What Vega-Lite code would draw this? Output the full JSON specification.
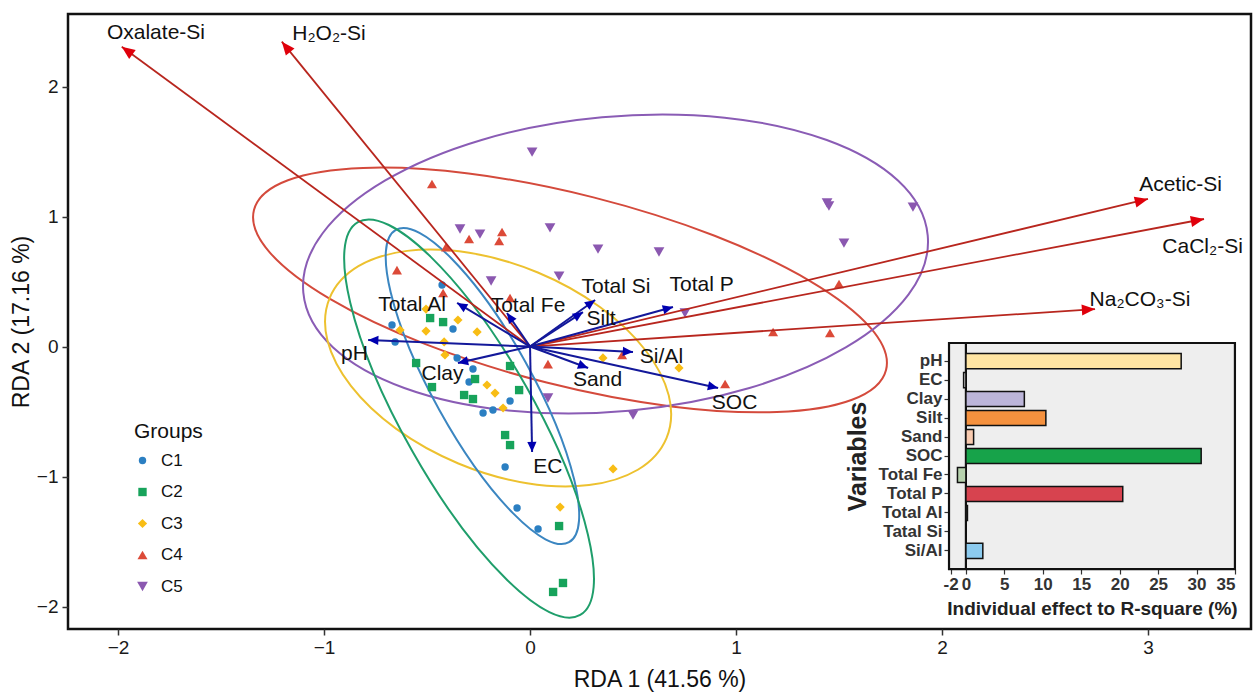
{
  "$schema": "https://vega.github.io/schema/vega-lite/v6.json",
  "width": 1183,
  "height": 615,
  "autosize": {"type": "none"},
  "padding": {"left": 68, "top": 14, "right": 2, "bottom": 64},
  "background": "white",
  "config": {
    "font": "Liberation Sans",
    "view": {"stroke": "#111111", "strokeWidth": 2.5},
    "axis": {"grid": false, "domain": false, "labelFont": "Liberation Sans", "titleFont": "Liberation Sans", "titleFontWeight": "normal", "labelColor": "#1a1a1a", "titleColor": "#111111", "tickColor": "#333333"},
    "legend": {"titleFont": "Liberation Sans", "labelFont": "Liberation Sans", "titleFontSize": 21, "titleFontWeight": "normal", "labelFontSize": 17, "titleColor": "#111111", "labelColor": "#111111", "rowPadding": 13.5, "labelOffset": 10, "titlePadding": 10, "padding": 0}
  },
  "datasets": {
    "points": [
      {"group": "C1", "rda1": -0.427, "rda2": 0.473},
      {"group": "C1", "rda1": -0.670, "rda2": 0.165},
      {"group": "C1", "rda1": -0.374, "rda2": 0.135},
      {"group": "C1", "rda1": -0.655, "rda2": 0.035},
      {"group": "C1", "rda1": -0.354, "rda2": -0.088},
      {"group": "C1", "rda1": -0.277, "rda2": -0.173},
      {"group": "C1", "rda1": -0.296, "rda2": -0.273},
      {"group": "C1", "rda1": -0.097, "rda2": -0.419},
      {"group": "C1", "rda1": -0.180, "rda2": -0.488},
      {"group": "C1", "rda1": -0.228, "rda2": -0.512},
      {"group": "C1", "rda1": -0.121, "rda2": -0.927},
      {"group": "C1", "rda1": -0.063, "rda2": -1.242},
      {"group": "C1", "rda1": 0.039, "rda2": -1.404},
      {"group": "C2", "rda1": -0.485, "rda2": 0.219},
      {"group": "C2", "rda1": -0.422, "rda2": 0.188},
      {"group": "C2", "rda1": -0.553, "rda2": -0.127},
      {"group": "C2", "rda1": -0.476, "rda2": -0.312},
      {"group": "C2", "rda1": -0.320, "rda2": -0.373},
      {"group": "C2", "rda1": -0.277, "rda2": -0.404},
      {"group": "C2", "rda1": -0.267, "rda2": -0.250},
      {"group": "C2", "rda1": -0.097, "rda2": -0.150},
      {"group": "C2", "rda1": -0.053, "rda2": -0.335},
      {"group": "C2", "rda1": -0.121, "rda2": -0.681},
      {"group": "C2", "rda1": -0.097, "rda2": -0.758},
      {"group": "C2", "rda1": 0.141, "rda2": -1.381},
      {"group": "C2", "rda1": 0.160, "rda2": -1.819},
      {"group": "C2", "rda1": 0.112, "rda2": -1.888},
      {"group": "C3", "rda1": -0.505, "rda2": 0.288},
      {"group": "C3", "rda1": -0.350, "rda2": 0.204},
      {"group": "C3", "rda1": -0.631, "rda2": 0.127},
      {"group": "C3", "rda1": -0.505, "rda2": 0.119},
      {"group": "C3", "rda1": -0.257, "rda2": 0.112},
      {"group": "C3", "rda1": -0.417, "rda2": 0.035},
      {"group": "C3", "rda1": -0.413, "rda2": -0.065},
      {"group": "C3", "rda1": -0.209, "rda2": -0.296},
      {"group": "C3", "rda1": -0.170, "rda2": -0.358},
      {"group": "C3", "rda1": -0.131, "rda2": -0.473},
      {"group": "C3", "rda1": 0.354, "rda2": -0.088},
      {"group": "C3", "rda1": 0.723, "rda2": -0.165},
      {"group": "C3", "rda1": 0.403, "rda2": -0.942},
      {"group": "C3", "rda1": 0.146, "rda2": -1.235},
      {"group": "C4", "rda1": -0.476, "rda2": 1.250},
      {"group": "C4", "rda1": -0.136, "rda2": 0.881},
      {"group": "C4", "rda1": -0.150, "rda2": 0.812},
      {"group": "C4", "rda1": -0.296, "rda2": 0.827},
      {"group": "C4", "rda1": -0.408, "rda2": 0.765},
      {"group": "C4", "rda1": -0.646, "rda2": 0.588},
      {"group": "C4", "rda1": -0.422, "rda2": 0.412},
      {"group": "C4", "rda1": -0.097, "rda2": 0.373},
      {"group": "C4", "rda1": 0.087, "rda2": -0.135},
      {"group": "C4", "rda1": 0.447, "rda2": -0.065},
      {"group": "C4", "rda1": 0.947, "rda2": -0.288},
      {"group": "C4", "rda1": 1.180, "rda2": 0.112},
      {"group": "C4", "rda1": 1.456, "rda2": 0.104},
      {"group": "C4", "rda1": 1.500, "rda2": 0.481},
      {"group": "C5", "rda1": 0.010, "rda2": 1.496},
      {"group": "C5", "rda1": -0.340, "rda2": 0.904},
      {"group": "C5", "rda1": -0.243, "rda2": 0.865},
      {"group": "C5", "rda1": 0.097, "rda2": 0.912},
      {"group": "C5", "rda1": -0.189, "rda2": 0.504},
      {"group": "C5", "rda1": 0.141, "rda2": 0.542},
      {"group": "C5", "rda1": 0.330, "rda2": 0.750},
      {"group": "C5", "rda1": 0.626, "rda2": 0.727},
      {"group": "C5", "rda1": 0.752, "rda2": 0.258},
      {"group": "C5", "rda1": 1.442, "rda2": 1.104},
      {"group": "C5", "rda1": 1.451, "rda2": 1.081},
      {"group": "C5", "rda1": 1.859, "rda2": 1.073},
      {"group": "C5", "rda1": 1.524, "rda2": 0.796},
      {"group": "C5", "rda1": 0.087, "rda2": -0.396},
      {"group": "C5", "rda1": 0.500, "rda2": -0.527}
    ],
    "ellipses": [
      {"group": "C1", "cx": -0.231, "cy": -0.304},
      {"group": "C2", "cx": -0.296, "cy": -0.554},
      {"group": "C3", "cx": -0.155, "cy": -0.165},
      {"group": "C4", "cx": 0.194, "cy": 0.435},
      {"group": "C5", "cx": 0.415, "cy": 0.635}
    ],
    "arrows": [
      {"name": "Oxalate-Si", "kind": "response", "ox": 0, "oy": 0, "x": -1.982, "y": 2.306, "lx": -1.816, "ly": 2.408},
      {"name": "H₂O₂-Si", "kind": "response", "ox": 0, "oy": 0, "x": -1.205, "y": 2.345, "lx": -0.976, "ly": 2.404},
      {"name": "Acetic-Si", "kind": "response", "ox": 0, "oy": 0, "x": 3.0, "y": 1.135, "lx": 3.158, "ly": 1.242},
      {"name": "CaCl₂-Si", "kind": "response", "ox": 0, "oy": 0, "x": 3.272, "y": 0.981, "lx": 3.265, "ly": 0.765},
      {"name": "Na₂CO₃-Si", "kind": "response", "ox": 0, "oy": 0, "x": 2.743, "y": 0.288, "lx": 2.961, "ly": 0.358},
      {"name": "pH", "kind": "soil", "ox": 0, "oy": 0, "x": -0.786, "y": 0.05, "lx": -0.852, "ly": -0.058},
      {"name": "EC", "kind": "soil", "ox": 0, "oy": 0, "x": 0.01, "y": -0.812, "lx": 0.087, "ly": -0.923},
      {"name": "Clay", "kind": "soil", "ox": 0, "oy": 0, "x": -0.35, "y": -0.127, "lx": -0.425, "ly": -0.212},
      {"name": "Silt", "kind": "soil", "ox": 0, "oy": 0, "x": 0.257, "y": 0.265, "lx": 0.345, "ly": 0.215},
      {"name": "Sand", "kind": "soil", "ox": 0, "oy": 0, "x": 0.282, "y": -0.165, "lx": 0.328, "ly": -0.258},
      {"name": "SOC", "kind": "soil", "ox": 0, "oy": 0, "x": 0.913, "y": -0.319, "lx": 0.993, "ly": -0.438},
      {"name": "Total Fe", "kind": "soil", "ox": 0, "oy": 0, "x": -0.112, "y": 0.258, "lx": -0.01, "ly": 0.308},
      {"name": "Total P", "kind": "soil", "ox": 0, "oy": 0, "x": 0.694, "y": 0.304, "lx": 0.833, "ly": 0.473},
      {"name": "Total Al", "kind": "soil", "ox": 0, "oy": 0, "x": -0.354, "y": 0.335, "lx": -0.573, "ly": 0.319},
      {"name": "Total Si", "kind": "soil", "ox": 0, "oy": 0, "x": 0.316, "y": 0.358, "lx": 0.417, "ly": 0.458},
      {"name": "Si/Al", "kind": "soil", "ox": 0, "oy": 0, "x": 0.5, "y": -0.042, "lx": 0.638, "ly": -0.077}
    ],
    "panel": [{"x1": 2.034, "x2": 3.422, "y1": 0.027, "y2": -1.712, "zero": 2.116}],
    "effects": [
      {"variable": "pH", "effect": 28.0},
      {"variable": "EC", "effect": -0.3},
      {"variable": "Clay", "effect": 7.6},
      {"variable": "Silt", "effect": 10.4},
      {"variable": "Sand", "effect": 1.0},
      {"variable": "SOC", "effect": 30.6},
      {"variable": "Total Fe", "effect": -1.1},
      {"variable": "Total P", "effect": 20.4},
      {"variable": "Total Al", "effect": 0.2},
      {"variable": "Tatal Si", "effect": 0.0},
      {"variable": "Si/Al", "effect": 2.2}
    ]
  },
  "layer": [
    {
      "data": {"name": "ellipses"},
      "transform": [{"filter": "datum.group === 'C4'"}],
      "mark": {"type": "point", "shape": "M 1 0 C 1 0.162 0.5523 0.293 0 0.293 C -0.5523 0.293 -1 0.162 -1 0 C -1 -0.162 -0.5523 -0.293 0 -0.293 C 0.5523 -0.293 1 -0.162 1 0 Z", "size": 425104, "angle": 14.2, "filled": false, "stroke": "#d44a3c", "strokeWidth": 2, "opacity": 1},
      "encoding": {
        "x": {"field": "cx", "type": "quantitative", "scale": {"domain": [-2.243, 3.5], "nice": false, "zero": false}, "axis": {"values": [-2, -1, 0, 1, 2, 3], "labelFontSize": 19, "tickSize": 6, "tickWidth": 1.5, "labelPadding": 3, "title": "RDA 1 (41.56 %)", "titleFontSize": 23, "titlePadding": 11}},
        "y": {"field": "cy", "type": "quantitative", "scale": {"domain": [-2.173, 2.558], "nice": false, "zero": false}, "axis": {"values": [-2, -1, 0, 1, 2], "labelFontSize": 19, "tickSize": 6, "tickWidth": 1.5, "labelPadding": 4, "title": "RDA 2 (17.16 %)", "titleFontSize": 23, "titlePadding": 3}}
      }
    },
    {
      "data": {"name": "ellipses"},
      "transform": [{"filter": "datum.group === 'C5'"}],
      "mark": {"type": "point", "shape": "M 1 0 C 1 0.2595 0.5523 0.47 0 0.47 C -0.5523 0.47 -1 0.2595 -1 0 C -1 -0.2595 -0.5523 -0.47 0 -0.47 C 0.5523 -0.47 1 -0.2595 1 0 Z", "size": 393129, "angle": -5.24, "filled": false, "stroke": "#8a5cb5", "strokeWidth": 2, "opacity": 1},
      "encoding": {
        "x": {"field": "cx", "type": "quantitative", "scale": {"domain": [-2.243, 3.5], "nice": false, "zero": false}, "axis": null},
        "y": {"field": "cy", "type": "quantitative", "scale": {"domain": [-2.173, 2.558], "nice": false, "zero": false}, "axis": null}
      }
    },
    {
      "data": {"name": "ellipses"},
      "transform": [{"filter": "datum.group === 'C3'"}],
      "mark": {"type": "point", "shape": "M 1 0 C 1 0.3134 0.5523 0.567 0 0.567 C -0.5523 0.567 -1 0.3134 -1 0 C -1 -0.3134 -0.5523 -0.567 0 -0.567 C 0.5523 -0.567 1 -0.3134 1 0 Z", "size": 133079, "angle": 22.6, "filled": false, "stroke": "#edc12f", "strokeWidth": 2, "opacity": 1},
      "encoding": {
        "x": {"field": "cx", "type": "quantitative", "scale": {"domain": [-2.243, 3.5], "nice": false, "zero": false}, "axis": null},
        "y": {"field": "cy", "type": "quantitative", "scale": {"domain": [-2.173, 2.558], "nice": false, "zero": false}, "axis": null}
      }
    },
    {
      "data": {"name": "ellipses"},
      "transform": [{"filter": "datum.group === 'C1'"}],
      "mark": {"type": "point", "shape": "M 1 0 C 1 0.1525 0.5523 0.276 0 0.276 C -0.5523 0.276 -1 0.1525 -1 0 C -1 -0.1525 -0.5523 -0.276 0 -0.276 C 0.5523 -0.276 1 -0.1525 1 0 Z", "size": 127592, "angle": 61, "filled": false, "stroke": "#3b86c1", "strokeWidth": 2, "opacity": 1},
      "encoding": {
        "x": {"field": "cx", "type": "quantitative", "scale": {"domain": [-2.243, 3.5], "nice": false, "zero": false}, "axis": null},
        "y": {"field": "cy", "type": "quantitative", "scale": {"domain": [-2.173, 2.558], "nice": false, "zero": false}, "axis": null}
      }
    },
    {
      "data": {"name": "ellipses"},
      "transform": [{"filter": "datum.group === 'C2'"}],
      "mark": {"type": "point", "shape": "M 1 0 C 1 0.1602 0.5523 0.29 0 0.29 C -0.5523 0.29 -1 0.1602 -1 0 C -1 -0.1602 -0.5523 -0.29 0 -0.29 C 0.5523 -0.29 1 -0.1602 1 0 Z", "size": 203762, "angle": 60.5, "filled": false, "stroke": "#1f9e6b", "strokeWidth": 2, "opacity": 1},
      "encoding": {
        "x": {"field": "cx", "type": "quantitative", "scale": {"domain": [-2.243, 3.5], "nice": false, "zero": false}, "axis": null},
        "y": {"field": "cy", "type": "quantitative", "scale": {"domain": [-2.173, 2.558], "nice": false, "zero": false}, "axis": null}
      }
    },
    {
      "data": {"name": "points"},
      "mark": {"type": "point", "filled": true, "opacity": 1},
      "encoding": {
        "x": {"field": "rda1", "type": "quantitative", "scale": {"domain": [-2.243, 3.5], "nice": false, "zero": false}, "axis": null},
        "y": {"field": "rda2", "type": "quantitative", "scale": {"domain": [-2.173, 2.558], "nice": false, "zero": false}, "axis": null},
        "color": {"field": "group", "type": "nominal", "scale": {"domain": ["C1", "C2", "C3", "C4", "C5"], "range": ["#2b7fc2", "#17a35b", "#f8bd15", "#dc4a38", "#8b58b0"]}, "legend": {"title": "Groups", "orient": "none", "legendX": 66, "legendY": 407}},
        "shape": {"field": "group", "type": "nominal", "scale": {"domain": ["C1", "C2", "C3", "C4", "C5"], "range": ["circle", "square", "diamond", "triangle-up", "triangle-down"]}},
        "size": {"field": "group", "type": "nominal", "scale": {"domain": ["C1", "C2", "C3", "C4", "C5"], "range": [55, 115, 150, 250, 250]}}
      }
    },
    {
      "data": {"name": "arrows"},
      "transform": [{"filter": "datum.kind === 'response'"}],
      "mark": {"type": "rule", "color": "#b8261e", "strokeWidth": 1.8},
      "encoding": {
        "x": {"field": "ox", "type": "quantitative", "scale": {"domain": [-2.243, 3.5], "nice": false, "zero": false}, "axis": null},
        "y": {"field": "oy", "type": "quantitative", "scale": {"domain": [-2.173, 2.558], "nice": false, "zero": false}, "axis": null},
        "x2": {"field": "x"},
        "y2": {"field": "y"}
      }
    },
    {
      "data": {"name": "arrows"},
      "transform": [{"filter": "datum.kind === 'soil'"}],
      "mark": {"type": "rule", "color": "#13189a", "strokeWidth": 2},
      "encoding": {
        "x": {"field": "ox", "type": "quantitative", "scale": {"domain": [-2.243, 3.5], "nice": false, "zero": false}, "axis": null},
        "y": {"field": "oy", "type": "quantitative", "scale": {"domain": [-2.173, 2.558], "nice": false, "zero": false}, "axis": null},
        "x2": {"field": "x"},
        "y2": {"field": "y"}
      }
    },
    {
      "data": {"name": "arrows"},
      "transform": [{"filter": "datum.kind === 'response'"}, {"calculate": "90 - atan2(datum.y * 130, datum.x * 206) * 180 / PI", "as": "heading"}],
      "mark": {"type": "point", "shape": "M 0 0 L 0.42 1 L -0.42 1 Z", "size": 700, "filled": true, "color": "#e0000b", "opacity": 1},
      "encoding": {
        "x": {"field": "x", "type": "quantitative", "scale": {"domain": [-2.243, 3.5], "nice": false, "zero": false}, "axis": null},
        "y": {"field": "y", "type": "quantitative", "scale": {"domain": [-2.173, 2.558], "nice": false, "zero": false}, "axis": null},
        "angle": {"field": "heading", "type": "quantitative", "scale": null}
      }
    },
    {
      "data": {"name": "arrows"},
      "transform": [{"filter": "datum.kind === 'soil'"}, {"calculate": "90 - atan2(datum.y * 130, datum.x * 206) * 180 / PI", "as": "heading"}],
      "mark": {"type": "point", "shape": "M 0 0 L 0.45 1 L -0.45 1 Z", "size": 420, "filled": true, "color": "#0000b0", "opacity": 1},
      "encoding": {
        "x": {"field": "x", "type": "quantitative", "scale": {"domain": [-2.243, 3.5], "nice": false, "zero": false}, "axis": null},
        "y": {"field": "y", "type": "quantitative", "scale": {"domain": [-2.173, 2.558], "nice": false, "zero": false}, "axis": null},
        "angle": {"field": "heading", "type": "quantitative", "scale": null}
      }
    },
    {
      "data": {"name": "arrows"},
      "mark": {"type": "text", "fontSize": 21, "font": "Liberation Sans", "color": "#111111", "align": "center", "baseline": "middle"},
      "encoding": {
        "x": {"field": "lx", "type": "quantitative", "scale": {"domain": [-2.243, 3.5], "nice": false, "zero": false}, "axis": null},
        "y": {"field": "ly", "type": "quantitative", "scale": {"domain": [-2.173, 2.558], "nice": false, "zero": false}, "axis": null},
        "text": {"field": "name", "type": "nominal"}
      }
    },
    {
      "data": {"name": "panel"},
      "mark": {"type": "rect", "fill": "#eeeeee", "stroke": "#111111", "strokeWidth": 2.2},
      "encoding": {
        "x": {"field": "x1", "type": "quantitative", "scale": {"domain": [-2.243, 3.5], "nice": false, "zero": false}, "axis": null},
        "x2": {"field": "x2"},
        "y": {"field": "y1", "type": "quantitative", "scale": {"domain": [-2.173, 2.558], "nice": false, "zero": false}, "axis": null},
        "y2": {"field": "y2"}
      }
    },
    {
      "data": {"name": "panel"},
      "mark": {"type": "rule", "color": "#111111", "strokeWidth": 2.2},
      "encoding": {
        "x": {"field": "zero", "type": "quantitative", "scale": {"domain": [-2.243, 3.5], "nice": false, "zero": false}, "axis": null},
        "y": {"field": "y1", "type": "quantitative", "scale": {"domain": [-2.173, 2.558], "nice": false, "zero": false}, "axis": null},
        "y2": {"field": "y2"}
      }
    },
    {
      "data": {"name": "effects"},
      "mark": {"type": "bar", "stroke": "#111111", "strokeWidth": 1.5},
      "encoding": {
        "y": {"field": "variable", "type": "nominal", "sort": null, "scale": {"domain": ["pH", "EC", "Clay", "Silt", "Sand", "SOC", "Total Fe", "Total P", "Total Al", "Tatal Si", "Si/Al"], "range": [329, 555], "paddingInner": 0.2, "paddingOuter": 0.55}, "axis": {"orient": "left", "offset": -881, "title": "Variables", "titleFontSize": 25, "titleFontWeight": "bold", "titleColor": "#222222", "labelFontSize": 17, "labelFontWeight": "bold", "labelColor": "#333333", "tickSize": 5, "tickWidth": 1.2, "labelPadding": 2, "titlePadding": 8}},
        "x": {"field": "effect", "type": "quantitative", "scale": {"domain": [-2.2, 35], "range": [881, 1167], "nice": false, "zero": false}, "axis": {"orient": "bottom", "offset": -60, "values": [-2, 0, 5, 10, 15, 20, 25, 30, 35], "labelExpr": "datum.value < 0 ? '-' + abs(datum.value) : datum.label", "title": "Individual effect to R-square (%)", "titleFontSize": 19, "titleFontWeight": "bold", "titleColor": "#222222", "labelFontSize": 17, "labelFontWeight": "bold", "labelColor": "#333333", "tickSize": 5, "tickWidth": 1.2, "labelPadding": 2, "titlePadding": 7}},
        "fill": {"field": "variable", "type": "nominal", "scale": {"domain": ["pH", "EC", "Clay", "Silt", "Sand", "SOC", "Total Fe", "Total P", "Total Al", "Tatal Si", "Si/Al"], "range": ["#ffe5a3", "#d9d9d9", "#bcb5d9", "#f5913e", "#f9cbb0", "#17a34a", "#b7d2ae", "#d7434f", "#cccccc", "#cccccc", "#8ccbef"]}, "legend": null}
      }
    }
  ],
  "resolve": {"scale": {"x": "independent", "y": "independent"}, "axis": {"x": "independent", "y": "independent"}}
}
